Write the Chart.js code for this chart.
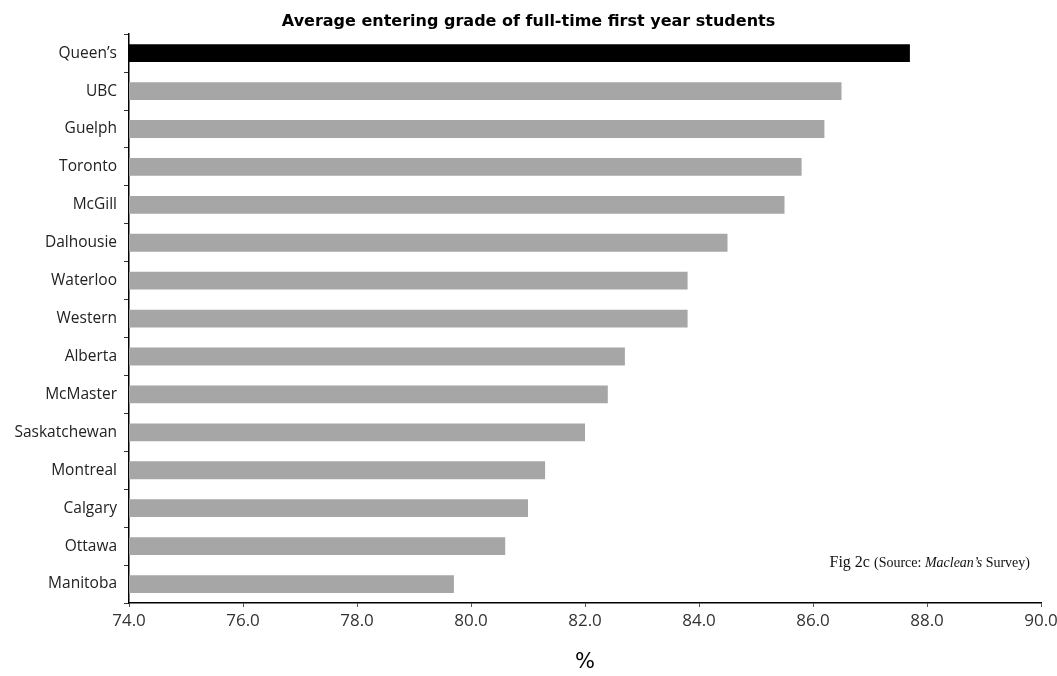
<!DOCTYPE html>
<html>
<head>
<meta charset="utf-8">
<script src="https://cdn.jsdelivr.net/npm/chart.js@4.4.1/dist/chart.umd.min.js"></script>
<style>
  html, body { margin: 0; padding: 0; background: #ffffff; }
  #wrap { width: 1057px; height: 676px; position: relative; }
</style>
</head>
<body>
<div id="wrap"><canvas id="c" width="1057" height="676"></canvas></div>
<script>
const universities = ["Queen\u2019s", "UBC", "Guelph", "Toronto", "McGill", "Dalhousie", "Waterloo", "Western", "Alberta", "McMaster", "Saskatchewan", "Montreal", "Calgary", "Ottawa", "Manitoba"];
const averageGrade = [87.7, 86.5, 86.2, 85.8, 85.5, 84.5, 83.8, 83.8, 82.7, 82.4, 82.0, 81.3, 81.0, 80.6, 79.7];
const xTickValues = [74, 76, 78, 80, 82, 84, 86, 88, 90];
const chartTitle = "Average entering grade of full-time first year students";
const axisTitle = "%";
const highlight = "Queen\u2019s";

const barColors = universities.map(u => u === highlight ? "#000000" : "#a6a6a6");

const sourceNote = {
  id: "sourceNote",
  afterDraw(chart) {
    const ctx = chart.ctx;
    const area = chart.chartArea;
    const parts = [
      { t: "Fig 2c ", f: "16px 'Liberation Serif', serif" },
      { t: "(Source: ", f: "14px 'Liberation Serif', serif" },
      { t: "Maclean\u2019s", f: "italic 14px 'Liberation Serif', serif" },
      { t: " Survey)", f: "14px 'Liberation Serif', serif" }
    ];
    ctx.save();
    let total = 0;
    parts.forEach(p => { ctx.font = p.f; p.w = ctx.measureText(p.t).width; total += p.w; });
    let x = area.right - 11 - total;
    const y = area.bottom - 36;
    ctx.fillStyle = "#111111";
    ctx.textBaseline = "alphabetic";
    ctx.textAlign = "left";
    parts.forEach(p => { ctx.font = p.f; ctx.fillText(p.t, x, y); x += p.w; });
    ctx.restore();
  }
};

new Chart(document.getElementById("c"), {
  type: "bar",
  data: {
    labels: universities,
    datasets: [{
      label: chartTitle,
      data: averageGrade,
      backgroundColor: barColors,
      borderWidth: 0,
      barPercentage: 0.47,
      categoryPercentage: 1.0
    }]
  },
  options: {
    indexAxis: "y",
    responsive: false,
    animation: false,
    devicePixelRatio: 1,
    layout: { padding: { left: 0, right: 0, top: 0, bottom: 0 } },
    plugins: {
      legend: { display: false },
      tooltip: { enabled: false },
      title: {
        display: true,
        text: chartTitle,
        color: "#000000",
        font: { family: "'DejaVu Sans', sans-serif", size: 16, weight: "bold" },
        padding: { top: 12, bottom: 3 }
      }
    },
    scales: {
      x: {
        type: "linear",
        min: 74,
        max: 90,
        afterBuildTicks(scale) { scale.ticks = xTickValues.map(v => ({ value: v })); },
        afterFit(scale) { scale.height = 73; scale.paddingRight = 16; },
        ticks: {
          color: "#333333",
          font: { family: "'Open Sans', sans-serif", size: 17 },
          padding: 4,
          maxRotation: 0,
          callback: v => Number(v).toFixed(1)
        },
        grid: { drawOnChartArea: false, drawTicks: true, tickLength: 4, color: "#000000", tickColor: "#555555" },
        border: { display: true, color: "#000000", width: 1.5 },
        title: {
          display: true,
          text: axisTitle,
          color: "#000000",
          font: { family: "'DejaVu Sans', sans-serif", size: 21 },
          padding: { top: 18, bottom: 1 }
        }
      },
      y: {
        type: "category",
        afterFit(scale) { scale.width = 129; },
        ticks: {
          color: "#222222",
          font: { family: "'Open Sans', sans-serif", size: 15.5 },
          padding: 7
        },
        grid: { drawOnChartArea: false, drawTicks: true, tickLength: 5, offset: true, color: "#000000", tickColor: "#333333" },
        border: { display: true, color: "#000000", width: 1.5 }
      }
    }
  },
  plugins: [sourceNote]
});
</script>
</body>
</html>
